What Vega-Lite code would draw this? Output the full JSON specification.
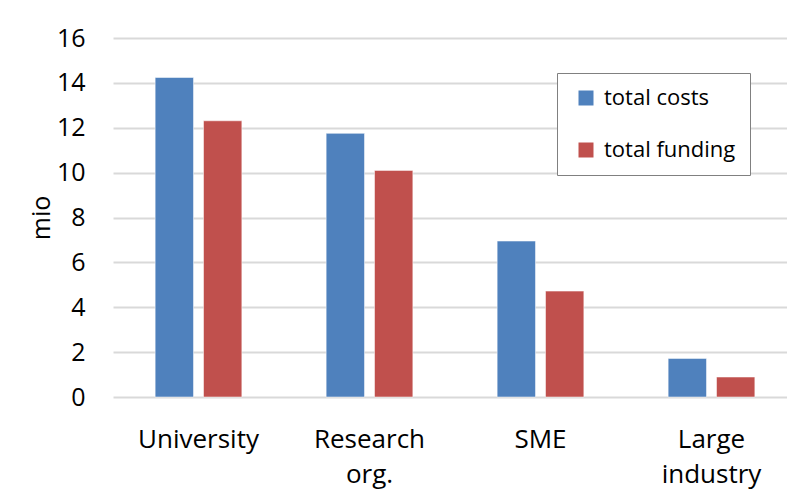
{
  "$schema": "https://vega.github.io/schema/vega-lite/v6.json",
  "autosize": "none",
  "width": 684,
  "height": 359,
  "padding": {"left": 113, "top": 38, "right": 0, "bottom": 98},
  "background": "white",
  "data": {
    "values": [
      {"category": "University", "series": "total costs", "value": 14.24},
      {"category": "University", "series": "total funding", "value": 12.31},
      {"category": "Research org.", "series": "total costs", "value": 11.75},
      {"category": "Research org.", "series": "total funding", "value": 10.1},
      {"category": "SME", "series": "total costs", "value": 6.95},
      {"category": "SME", "series": "total funding", "value": 4.72},
      {"category": "Large industry", "series": "total costs", "value": 1.72},
      {"category": "Large industry", "series": "total funding", "value": 0.89}
    ]
  },
  "mark": {"type": "bar", "stroke": "white", "strokeOpacity": 0.5, "strokeWidth": 1},
  "encoding": {
    "x": {
      "field": "category",
      "type": "nominal",
      "sort": ["University", "Research org.", "SME", "Large industry"],
      "scale": {"paddingInner": 0.493, "paddingOuter": 0.2465},
      "axis": {
        "title": null,
        "labelAngle": 0,
        "labelExpr": "split(datum.value, ' ')",
        "labelFont": "Open Sans",
        "labelFontSize": 26,
        "labelColor": "#000000",
        "labelPadding": 29,
        "labelLineHeight": 35,
        "labelBaseline": "top",
        "labelLimit": 300,
        "ticks": false,
        "domain": false,
        "grid": false
      }
    },
    "xOffset": {
      "field": "series",
      "type": "nominal",
      "scale": {"paddingInner": 0.207, "paddingOuter": 0}
    },
    "y": {
      "field": "value",
      "type": "quantitative",
      "scale": {"domain": [0, 16], "nice": false},
      "axis": {
        "title": "mio",
        "titleFont": "Open Sans",
        "titleFontSize": 25,
        "titleFontWeight": "normal",
        "titleColor": "#000000",
        "titlePadding": 2,
        "values": [0, 2, 4, 6, 8, 10, 12, 14, 16],
        "labelFont": "Open Sans",
        "labelFontSize": 25,
        "labelColor": "#000000",
        "labelPadding": 28,
        "ticks": false,
        "domain": false,
        "grid": true,
        "gridColor": "#d9d9d9",
        "gridWidth": 2
      }
    },
    "color": {
      "field": "series",
      "type": "nominal",
      "scale": {"domain": ["total costs", "total funding"], "range": ["#4f81bd", "#c0504d"]},
      "legend": {
        "title": null,
        "orient": "none",
        "legendX": 444,
        "legendY": 35,
        "symbolType": "square",
        "symbolSize": 225,
        "symbolStrokeWidth": 0,
        "symbolOffset": 4,
        "labelFont": "Open Sans",
        "labelFontSize": 22,
        "labelColor": "#000000",
        "labelOffset": 7,
        "labelLimit": 300,
        "rowPadding": 30,
        "padding": 14,
        "strokeColor": "#808080",
        "fillColor": "white",
        "encode": {"legend": {"update": {"strokeWidth": {"value": 2}}}}
      }
    }
  },
  "config": {"view": {"stroke": null}}
}
